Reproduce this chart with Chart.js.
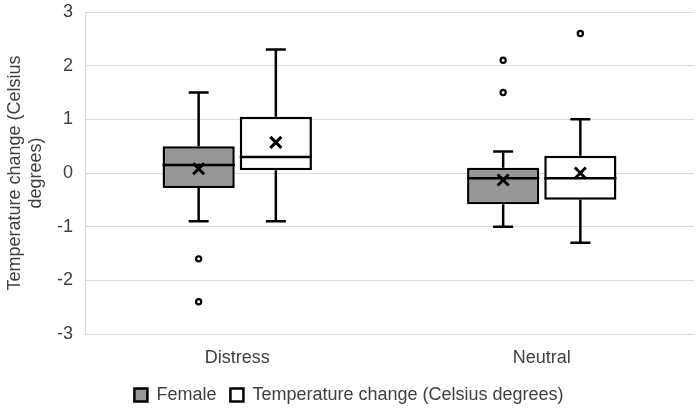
<!DOCTYPE html>
<html>
<head>
<meta charset="utf-8">
<script src="https://cdn.jsdelivr.net/npm/chart.js@4.4.1/dist/chart.umd.min.js"></script>
<style>
  html, body { margin: 0; padding: 0; background: #fff; }
  #wrap { position: relative; width: 696px; height: 409px; }
</style>
</head>
<body>
<div id="wrap"><canvas id="boxChart"></canvas></div>
<script>
const categories = ['Distress', 'Neutral'];
const seriesNames = ['Female', 'Temperature change (Celsius degrees)'];
const yTicks = [-3, -2, -1, 0, 1, 2, 3];

// Female box stats
const femaleMin = [-0.9, -1.0];
const femaleQ1 = [-0.28, -0.58];
const femaleMedian = [0.15, -0.1];
const femaleQ3 = [0.5, 0.1];
const femaleMax = [1.5, 0.4];
const femaleMean = [0.08, -0.13];
const femaleOutliers = [[-1.6, -2.4], [2.1, 1.5]];

// Temperature change box stats
const tempMin = [-0.9, -1.3];
const tempQ1 = [0.05, -0.5];
const tempMedian = [0.3, -0.1];
const tempQ3 = [1.05, 0.32];
const tempMax = [2.3, 1.0];
const tempMean = [0.57, 0.0];
const tempOutliers = [[], [2.6]];

const stats = [
  { min: femaleMin, q1: femaleQ1, median: femaleMedian, q3: femaleQ3, max: femaleMax, mean: femaleMean, outliers: femaleOutliers },
  { min: tempMin, q1: tempQ1, median: tempMedian, q3: tempQ3, max: tempMax, mean: tempMean, outliers: tempOutliers }
];

const textColor = '#404040';
const font = { family: "'Liberation Sans', Arial, sans-serif", size: 18 };

// whiskers, medians, means and outliers on top of the floating bars
const boxExtras = {
  id: 'boxExtras',
  afterDatasetsDraw(chart) {
    const ctx = chart.ctx;
    const y = chart.scales.y;
    ctx.save();
    ctx.strokeStyle = '#000';
    chart.data.datasets.forEach((ds, di) => {
      const s = stats[di];
      chart.getDatasetMeta(di).data.forEach((bar, i) => {
        const x = bar.x;
        const half = bar.width / 2;
        const cap = 10;
        ctx.lineWidth = 2.5;
        ctx.beginPath();
        // median
        ctx.moveTo(x - half, y.getPixelForValue(s.median[i]));
        ctx.lineTo(x + half, y.getPixelForValue(s.median[i]));
        // whiskers
        ctx.moveTo(x, y.getPixelForValue(s.q3[i]));
        ctx.lineTo(x, y.getPixelForValue(s.max[i]));
        ctx.moveTo(x, y.getPixelForValue(s.q1[i]));
        ctx.lineTo(x, y.getPixelForValue(s.min[i]));
        // caps
        ctx.moveTo(x - cap, y.getPixelForValue(s.max[i]));
        ctx.lineTo(x + cap, y.getPixelForValue(s.max[i]));
        ctx.moveTo(x - cap, y.getPixelForValue(s.min[i]));
        ctx.lineTo(x + cap, y.getPixelForValue(s.min[i]));
        ctx.stroke();

        // mean marker
        const my = y.getPixelForValue(s.mean[i]);
        const m = 5.5;
        ctx.lineWidth = 3;
        ctx.beginPath();
        ctx.moveTo(x - m, my - m); ctx.lineTo(x + m, my + m);
        ctx.moveTo(x + m, my - m); ctx.lineTo(x - m, my + m);
        ctx.stroke();

        // outliers
        ctx.lineWidth = 2.2;
        ctx.fillStyle = '#fff';
        s.outliers[i].forEach(v => {
          ctx.beginPath();
          ctx.arc(x, y.getPixelForValue(v), 2.6, 0, Math.PI * 2);
          ctx.fill();
          ctx.stroke();
        });
      });
    });
    ctx.restore();
  }
};

new Chart(document.getElementById('boxChart'), {
  type: 'bar',
  data: {
    labels: categories,
    datasets: [
      {
        label: seriesNames[0],
        data: femaleQ1.map((q, i) => [q, femaleQ3[i]]),
        backgroundColor: '#969696',
        borderColor: '#000',
        borderWidth: 2.5,
        borderSkipped: false
      },
      {
        label: seriesNames[1],
        data: tempQ1.map((q, i) => [q, tempQ3[i]]),
        backgroundColor: '#fff',
        borderColor: '#000',
        borderWidth: 2.5,
        borderSkipped: false
      }
    ]
  },
  options: {
    responsive: true,
    maintainAspectRatio: false,
    animation: false,
    events: [],
    layout: { padding: { top: 12, right: 2, bottom: -5, left: 4 } },
    datasets: {
      bar: { categoryPercentage: 0.507, barPercentage: 0.935 }
    },
    plugins: {
      tooltip: { enabled: false },
      legend: {
        position: 'bottom',
        labels: {
          boxWidth: 13,
          boxHeight: 13,
          padding: 14,
          color: textColor,
          font: font
        }
      }
    },
    scales: {
      x: {
        grid: { display: false, drawTicks: false },
        border: { display: false },
        ticks: { color: textColor, font: font, padding: 13 },
        afterFit: (scale) => { scale.height = 38; }
      },
      y: {
        min: -3,
        max: 3,
        afterBuildTicks: (scale) => { scale.ticks = yTicks.map(v => ({ value: v })); },
        afterFit: (scale) => {
          scale.width = 81;
          scale.paddingTop = 0;
          scale.paddingBottom = 0;
        },
        grid: { color: '#d9d9d9', lineWidth: 1, drawTicks: false },
        border: { display: true, color: '#d9d9d9' },
        ticks: { color: textColor, font: font, padding: 12 },
        title: {
          display: true,
          text: ['Temperature change (Celsius', 'degrees)'],
          color: textColor,
          font: font,
          padding: { top: 0, bottom: 0 }
        }
      }
    }
  },
  plugins: [boxExtras]
});
</script>
</body>
</html>
